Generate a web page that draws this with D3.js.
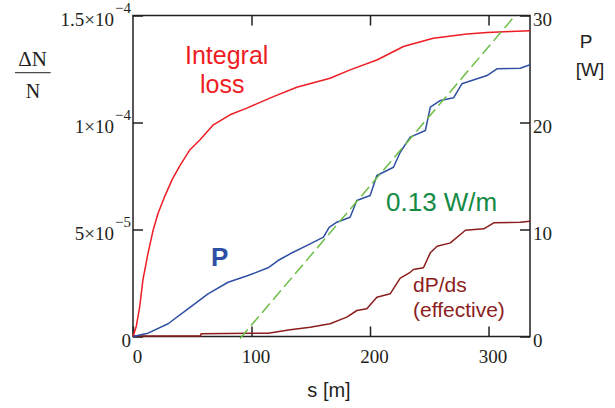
<!DOCTYPE html>
<html>
<head>
<meta charset="utf-8">
<script src="https://cdn.jsdelivr.net/npm/d3@7"></script>
<style>
  body { margin: 0; background: #fff; }
  svg { display: block; }
  .tk text { font-family: "Liberation Serif", "Times New Roman", serif; font-size: 19px; }
</style>
</head>
<body>
<div id="chart"></div>
<script>
// data
// integral loss dN/N (left axis) vs s [m]
var lossS = [0, 2.8, 5.7, 8.4, 12.7, 16.9, 21.1, 26.8, 33, 39.7, 48.1, 56.6, 67.8, 81.9, 96, 118.5, 138.2, 166.3, 183.2, 205.8, 228.2, 253.3, 281.8, 298.7, 318.3, 335];
var lossV = [0, 0.48, 1.41, 2.66, 3.90, 4.95, 5.75, 6.55, 7.33, 8.0, 8.73, 9.19, 9.89, 10.36, 10.67, 11.21, 11.65, 12.07, 12.46, 12.92, 13.55, 13.94, 14.14, 14.20, 14.25, 14.29].map(function(v) { return v * 1e-5 });

// power P [W] (right axis)
var powS = [0, 12.7, 29.6, 46.4, 63.3, 80.2, 97.1, 114, 122.4, 132.6, 149.5, 160.7, 165.5, 172, 183.2, 188.9, 200.1, 205.8, 219.8, 225.5, 233.9, 246.7, 250.9, 259.4, 270.5, 277.5, 298.7, 307.1, 326.8, 335];
var powW = [0, 0.31, 1.19, 2.59, 3.99, 5.07, 5.70, 6.42, 7.10, 7.73, 8.66, 9.28, 10.21, 10.68, 11.15, 12.71, 13.18, 15.05, 15.82, 17.22, 18.63, 19.25, 21.43, 22.06, 22.31, 23.62, 24.39, 25.02, 25.07, 25.39];

// dP/ds (effective), right axis
var effS = [0, 57, 57.5, 99, 114, 132.6, 149.5, 166.3, 180.4, 188.9, 197.3, 205.8, 217, 225.5, 233.9, 236.6, 245.1, 250.9, 256.6, 267.8, 280.5, 296, 304.4, 326.8, 335];
var effW = [0.05, 0.05, 0.25, 0.3, 0.3, 0.63, 0.87, 1.19, 1.81, 2.43, 2.59, 3.67, 3.99, 5.45, 6.0, 6.26, 6.42, 7.82, 8.44, 8.75, 9.93, 10.06, 10.62, 10.68, 10.77];

// 0.13 W/m fit line
var fitS = [90.3, 322.5];
var fitW = [-0.19, 30];

// ticks
var xTicks = [0, 100, 200, 300];
var yLeftTicks = [0, 5e-5, 1e-4, 1.5e-4];
var yLeftBase = ["0", "5\u00d710", "1\u00d710", "1.5\u00d710"];
var yLeftExp = ["", "\u22125", "\u22124", "\u22124"];
var yRightTicks = [0, 10, 20, 30];

// layout
var margin = {top: 15.5, right: 85, bottom: 71.5, left: 133},
    width = 615 - margin.left - margin.right,
    height = 408 - margin.top - margin.bottom;

var ink = "#231f20";
var serif = "'Liberation Serif', 'Times New Roman', serif";
var sans = "'Liberation Sans', Arial, sans-serif";

var svg = d3.select("#chart")
  .append("svg")
    .attr("width", 615)
    .attr("height", 408);

var g = svg.append("g")
    .attr("transform", "translate(" + margin.left + "," + margin.top + ")");

var x = d3.scaleLinear().domain([0, 335]).range([0, width]);
var yL = d3.scaleLinear().domain([0, 1.5e-4]).range([height, 0]);
var yR = d3.scaleLinear().domain([0, 30]).range([height, 0]);

// frame
g.append("rect")
  .attr("width", width)
  .attr("height", height)
  .attr("fill", "none")
  .attr("stroke", ink)
  .attr("stroke-width", 1.5);

function styleAxis(sel) {
  sel.attr("class", "tk").attr("color", ink);
  sel.select(".domain").remove();
  sel.selectAll(".tick line").attr("stroke-width", 1.5);
  sel.selectAll(".tick text").attr("fill", ink);
}

// bottom
g.append("g")
  .attr("transform", "translate(0," + height + ")")
  .call(d3.axisBottom(x).tickValues(xTicks).tickSizeInner(-10).tickSizeOuter(0)
    .tickPadding(13).tickFormat(d3.format("d")))
  .call(styleAxis)
  .selectAll(".tick text").attr("dx", 4);

// top
g.append("g")
  .call(d3.axisTop(x).tickValues([100, 200, 300]).tickSizeInner(-10).tickSizeOuter(0).tickFormat(""))
  .call(styleAxis);

// left
g.append("g")
  .call(d3.axisLeft(yL).tickValues(yLeftTicks).tickSizeInner(-10).tickSizeOuter(0)
    .tickPadding(2).tickFormat(""))
  .call(styleAxis)
  .selectAll(".tick text")
  .each(function(d, i) {
    var t = d3.select(this).attr("dy", 10);
    t.append("tspan").text(yLeftBase[i]);
    if (yLeftExp[i]) {
      t.append("tspan").attr("dy", -13).attr("dx", 1).style("font-size", "15px").text(yLeftExp[i]);
    }
  });

// right
g.append("g")
  .attr("transform", "translate(" + width + ",0)")
  .call(d3.axisRight(yR).tickValues(yRightTicks).tickSizeInner(-10).tickSizeOuter(0).tickPadding(3))
  .call(styleAxis)
  .selectAll(".tick text").attr("dy", 10);

// curves
function drawLine(xs, ys, yScale, color, dash) {
  var line = d3.line()
    .x(function(d, i) { return x(xs[i]) })
    .y(function(d, i) { return yScale(ys[i]) });
  var p = g.append("path")
    .attr("fill", "none")
    .attr("stroke", color)
    .attr("stroke-width", 1.5)
    .attr("stroke-linejoin", "round")
    .attr("d", line(xs));
  if (dash) p.attr("stroke-dasharray", dash);
}

drawLine(effS, effW, yR, "#8c1d1d");
drawLine(lossS, lossV, yL, "#ee1c24");
drawLine(powS, powW, yR, "#2e4fa3");
drawLine(fitS, fitW, yR, "#6cbd45", "12,5");

// labels
function label(txt, px, py, size, color, opts) {
  opts = opts || {};
  return svg.append("text")
    .attr("x", px).attr("y", py)
    .style("font-family", opts.family || sans)
    .style("font-size", size + "px")
    .style("font-weight", opts.weight || "normal")
    .attr("text-anchor", opts.anchor || "start")
    .attr("fill", color)
    .text(txt);
}

label("\u0394N", 32.5, 66, 21, ink, {family: serif, anchor: "middle"});
svg.append("line").attr("x1", 15).attr("x2", 50.7).attr("y1", 72.7).attr("y2", 72.7)
  .attr("stroke", ink).attr("stroke-width", 1);
label("N", 33, 98, 20, ink, {family: serif, anchor: "middle"});

label("s [m]", 329, 397, 20, ink, {anchor: "middle"});
label("P", 586, 48, 19, ink, {anchor: "middle"});
label("[W]", 590, 76, 19, ink, {anchor: "middle"});

label("Integral", 185, 64, 25, "#ee1c24");
label("loss", 200, 93, 25, "#ee1c24");
label("P", 211, 266, 26, "#2e4fa3", {weight: "bold"});
label("0.13 W/m", 386, 211, 26, "#158a45");
label("dP/ds", 413, 291.5, 21, "#8c1d1d");
label("(effective)", 413, 317, 21, "#8c1d1d");
</script>
</body>
</html>
